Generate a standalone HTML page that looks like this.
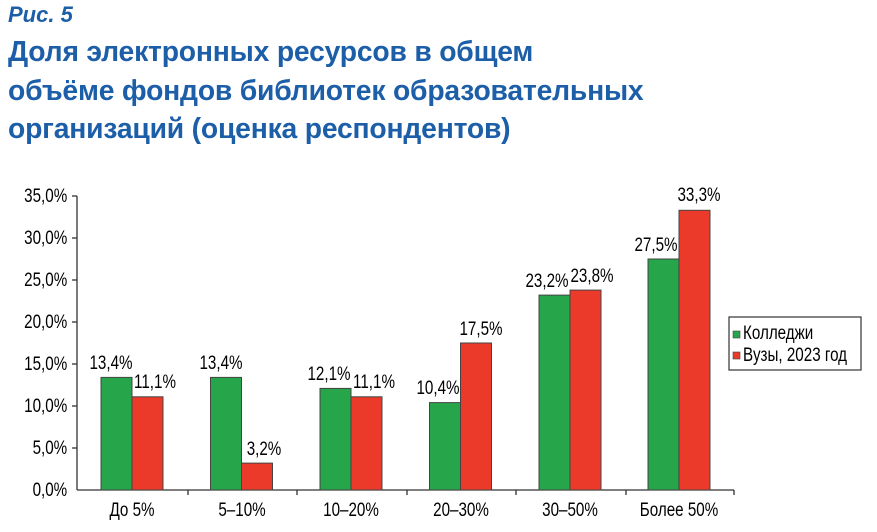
<!DOCTYPE html><html><head><meta charset="utf-8"><style>body{margin:0;background:#fff;width:877px;height:532px;overflow:hidden;font-family:"Liberation Sans",sans-serif}
.t{position:absolute;left:8px;color:#1c5ea8;font-weight:bold}
</style></head><body>
<div class="t" style="top:2px;font-size:22px;font-style:italic">Рис. 5</div>
<div class="t" style="top:32px;font-size:28.3px;line-height:38.5px;letter-spacing:-0.2px">Доля электронных ресурсов в общем<br>объёме фондов библиотек образовательных<br>организаций (оценка респондентов)</div>
<svg width="877" height="532" style="position:absolute;left:0;top:0" font-family="Liberation Sans" font-size="19">
<g stroke="#333" stroke-width="1.3">
<line x1="77" y1="196" x2="77" y2="490"/><line x1="77" y1="490" x2="734" y2="490"/>
<line x1="72" y1="196" x2="77" y2="196"/><line x1="72" y1="238" x2="77" y2="238"/><line x1="72" y1="280" x2="77" y2="280"/><line x1="72" y1="322" x2="77" y2="322"/><line x1="72" y1="364" x2="77" y2="364"/><line x1="72" y1="406" x2="77" y2="406"/><line x1="72" y1="448" x2="77" y2="448"/>
<line x1="188" y1="490" x2="188" y2="495"/><line x1="297" y1="490" x2="297" y2="495"/><line x1="407" y1="490" x2="407" y2="495"/><line x1="516" y1="490" x2="516" y2="495"/><line x1="626" y1="490" x2="626" y2="495"/><line x1="734" y1="490" x2="734" y2="495"/>
</g>
<g text-anchor="end" transform="scale(0.8,1)">
<text x="84" y="202">35,0%</text><text x="84" y="244">30,0%</text><text x="84" y="286">25,0%</text><text x="84" y="328">20,0%</text><text x="84" y="370">15,0%</text><text x="84" y="412">10,0%</text><text x="84" y="454">5,0%</text><text x="84" y="496">0,0%</text>
</g>
<g stroke="#444" stroke-width="1">
<rect x="101" y="377.4" width="31" height="112.6" fill="#27a54a"/><rect x="132" y="396.8" width="31" height="93.2" fill="#ec3a2a"/>
<rect x="210.5" y="377.4" width="31" height="112.6" fill="#27a54a"/><rect x="241.5" y="463.1" width="31" height="26.9" fill="#ec3a2a"/>
<rect x="320" y="388.4" width="31" height="101.6" fill="#27a54a"/><rect x="351" y="396.8" width="31" height="93.2" fill="#ec3a2a"/>
<rect x="429.5" y="402.6" width="31" height="87.4" fill="#27a54a"/><rect x="460.5" y="343" width="31" height="147" fill="#ec3a2a"/>
<rect x="539" y="295.1" width="31" height="194.9" fill="#27a54a"/><rect x="570" y="290.1" width="31" height="199.9" fill="#ec3a2a"/>
<rect x="648" y="259" width="31" height="231" fill="#27a54a"/><rect x="679" y="210.3" width="31" height="279.7" fill="#ec3a2a"/>
</g>
<g text-anchor="middle">
<g transform="translate(111,0) scale(0.8,1)"><text y="369">13,4%</text></g>
<g transform="translate(155,0) scale(0.8,1)"><text y="388">11,1%</text></g>
<g transform="translate(221,0) scale(0.8,1)"><text y="369">13,4%</text></g>
<g transform="translate(264,0) scale(0.8,1)"><text y="455">3,2%</text></g>
<g transform="translate(329,0) scale(0.8,1)"><text y="380">12,1%</text></g>
<g transform="translate(374,0) scale(0.8,1)"><text y="388">11,1%</text></g>
<g transform="translate(438,0) scale(0.8,1)"><text y="394">10,4%</text></g>
<g transform="translate(481,0) scale(0.8,1)"><text y="335">17,5%</text></g>
<g transform="translate(547,0) scale(0.8,1)"><text y="287">23,2%</text></g>
<g transform="translate(592,0) scale(0.8,1)"><text y="282">23,8%</text></g>
<g transform="translate(656,0) scale(0.8,1)"><text y="251">27,5%</text></g>
<g transform="translate(699,0) scale(0.8,1)"><text y="201">33,3%</text></g>
<g transform="translate(132,0) scale(0.8,1)"><text y="516">До 5%</text></g>
<g transform="translate(242,0) scale(0.8,1)"><text y="516">5–10%</text></g>
<g transform="translate(351,0) scale(0.8,1)"><text y="516">10–20%</text></g>
<g transform="translate(461,0) scale(0.8,1)"><text y="516">20–30%</text></g>
<g transform="translate(570,0) scale(0.8,1)"><text y="516">30–50%</text></g>
<g transform="translate(679,0) scale(0.8,1)"><text y="516">Более 50%</text></g>
</g>
<rect x="729" y="317" width="132" height="53" fill="#fff" stroke="#333" stroke-width="1.2"/>
<rect x="733" y="331" width="7" height="7" fill="#27a54a" stroke="#444" stroke-width="0.6"/>
<rect x="733" y="352" width="7" height="7" fill="#ec3a2a" stroke="#444" stroke-width="0.6"/>
<g transform="translate(743,0) scale(0.8,1)"><text x="0" y="339">Колледжи</text><text x="0" y="361">Вузы, 2023 год</text></g>
</svg>
</body></html>
